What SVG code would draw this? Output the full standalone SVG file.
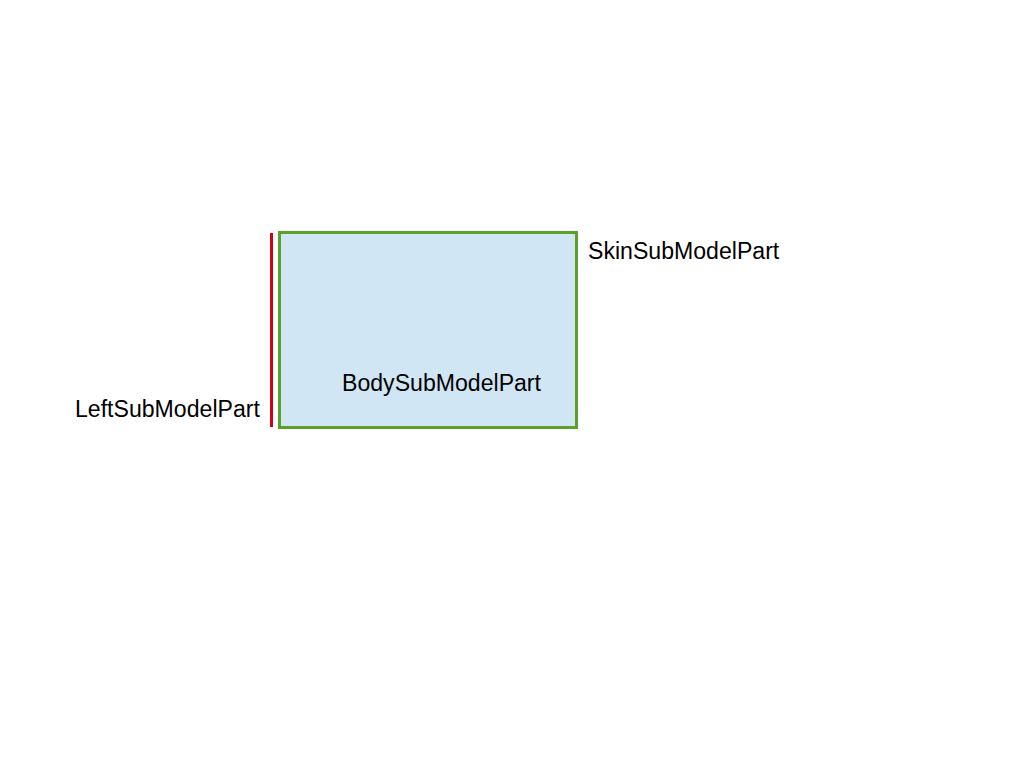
<svg xmlns="http://www.w3.org/2000/svg" width="1024" height="768" viewBox="0 0 1024 768">
<style>
.lbl{font-family:"Liberation Sans",Arial,sans-serif;font-size:23.1px;fill:#000}
</style>
<rect width="1024" height="768" fill="#fff"/>
<g id="body">
<rect x="279.5" y="232.5" width="297" height="195" fill="#d0e6f4" stroke="#5ba02a" stroke-width="3"/>
<text class="lbl" x="342" y="391">BodySubModelPart</text>
</g>
<g id="left">
<line x1="271.5" y1="233" x2="271.5" y2="427" stroke="#d40010" stroke-width="3"/>
<text class="lbl" x="75" y="417">LeftSubModelPart</text>
</g>
<g id="skin">
<text class="lbl" x="588" y="259">SkinSubModelPart</text>
</g>
<g id="connectors"/>
</svg>
